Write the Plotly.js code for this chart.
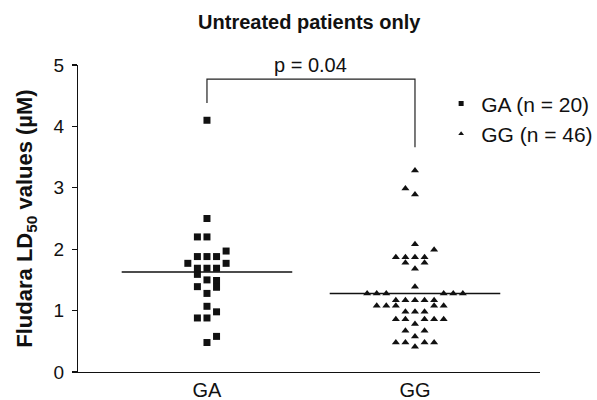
<!DOCTYPE html>
<html>
<head>
<meta charset="utf-8">
<script src="https://cdn.plot.ly/plotly-3.0.1.min.js"></script>
<style>html,body{margin:0;padding:0;background:#fff;}#chart{width:597px;height:400px;}</style>
</head>
<body>
<div id="chart"></div>
<script>
// Category labels
const categories = ['GA', 'GG'];
const legendNames = ['GA (n = 20)', 'GG (n = 46)'];

// GA values (µM) and their beeswarm column (offset index)
const gaValues = [4.1, 2.5, 2.2, 2.2, 1.97, 1.88, 1.88, 1.88, 1.77, 1.77, 1.69, 1.69, 1.69, 1.59, 1.5, 1.49, 1.39, 1.38, 1.28, 1.07, 0.98, 0.88, 0.88, 0.58, 0.48];
const gaColumns = [0, 0, -1, 0, 2, -1, 0, 1, -2, 2, -1, 0, 1, -1, 0, 1, -1, 1, 0, 0, 1, -1, 0, 1, 0];

// GG values (µM) and their beeswarm column
const ggValues = [3.28, 2.99, 2.89, 2.08, 1.99, 1.87, 1.87, 1.87, 1.87, 1.78, 1.78, 1.68, 1.39,
  1.28, 1.28, 1.28, 1.28, 1.28, 1.28,
  1.17, 1.17, 1.17, 1.17, 1.17,
  1.08, 1.08, 1.08, 1.08, 1.08,
  0.98, 0.98, 0.98,
  0.86, 0.86, 0.86, 0.86, 0.86,
  0.78, 0.67, 0.67, 0.58,
  0.48, 0.48, 0.48, 0.48, 0.41];
const ggColumns = [0, -1, 0, 0, 2, -2, -1, 0, 1, -1, 1, 0, 0,
  -5, -4, -3, 3, 4, 5,
  -2, -1, 0, 1, 2,
  -4, -3, -2, 2, 3,
  -1, 0, 1,
  -2, -1, 1, 2, 3,
  0, -1, 1, 0,
  -2, -1, 1, 2, 0];

// Median lines
const medians = [1.63, 1.28];
// Significance bracket: top level and drop ends for each group
const bracketTop = 4.77;
const bracketEnds = [4.38, 3.66];
const pLabel = 'p = 0.04';

const colStep = 0.046;
const halfWidth = 0.41;
const FONT = 'Liberation Sans, Arial, Helvetica, sans-serif';

const gaX = gaColumns.map(c => 1 + c * colStep);
const ggX = ggColumns.map(c => 2 + c * colStep);

const traces = [
  {x: gaX, y: gaValues, type: 'scatter', mode: 'markers', showlegend: false,
   marker: {symbol: 'square', size: 7, color: '#111'}},
  {x: ggX, y: ggValues, type: 'scatter', mode: 'markers', showlegend: false,
   marker: {symbol: 'triangle-up', size: 7, color: '#111'}},
  {x: [null], y: [null], type: 'scatter', mode: 'markers', name: legendNames[0], legendgroup: 'a',
   marker: {symbol: 'square', size: 5, color: '#111'}},
  {x: [null], y: [null], type: 'scatter', mode: 'markers', name: legendNames[1], legendgroup: 'b',
   marker: {symbol: 'triangle-up', size: 5, color: '#111'}}
];

const shapes = medians.map((m, i) => ({
  type: 'line', xref: 'x', yref: 'y', x0: i + 1 - halfWidth, x1: i + 1 + halfWidth, y0: m, y1: m,
  line: {color: '#111', width: 1.5}
}));
shapes.push({
  type: 'path', xref: 'x', yref: 'y',
  path: `M 1 ${bracketEnds[0]} L 1 ${bracketTop} L 2 ${bracketTop} L 2 ${bracketEnds[1]}`,
  line: {color: '#222', width: 1.2}
});

const layout = {
  width: 597, height: 400,
  margin: {l: 78, r: 57, t: 65, b: 28, autoexpand: false},
  paper_bgcolor: '#fff', plot_bgcolor: '#fff',
  font: {family: FONT, color: '#111', size: 19},
  title: {text: 'Untreated patients only', font: {family: FONT, size: 20, weight: 'bold', color: '#111'},
          xref: 'container', x: 0.518, xanchor: 'center', yref: 'container', y: 0.946, yanchor: 'middle'},
  xaxis: {range: [0.38, 2.601], tickvals: [1, 2], ticktext: categories, ticks: '',
          showline: true, linecolor: '#111', linewidth: 1.2, showgrid: false, zeroline: false,
          tickfont: {size: 20}, ticklabelstandoff: 0},
  yaxis: {range: [0, 5], dtick: 1, ticks: 'outside', ticklen: 5, tickcolor: '#111', tickwidth: 1.2,
          showline: true, linecolor: '#111', linewidth: 1.2, showgrid: false, zeroline: false,
          tickfont: {size: 19}, ticklabelstandoff: 4,
          title: {text: 'Fludara LD<sub>50</sub> values (µM)', font: {family: FONT, size: 22, weight: 'bold'}, standoff: 14}},
  showlegend: true,
  legend: {x: 0.786, xanchor: 'left', y: 0.94, yanchor: 'top', font: {size: 21},
           traceorder: 'grouped', tracegroupgap: 0, bgcolor: 'rgba(0,0,0,0)', borderwidth: 0, itemwidth: 30},
  shapes: shapes,
  annotations: [{xref: 'x', yref: 'y', x: 1.5, y: bracketTop, text: pLabel, showarrow: false,
                 yanchor: 'bottom', yshift: 1, font: {size: 20}}]
};

Plotly.newPlot('chart', traces, layout, {displayModeBar: false, staticPlot: true});
</script>
</body>
</html>
